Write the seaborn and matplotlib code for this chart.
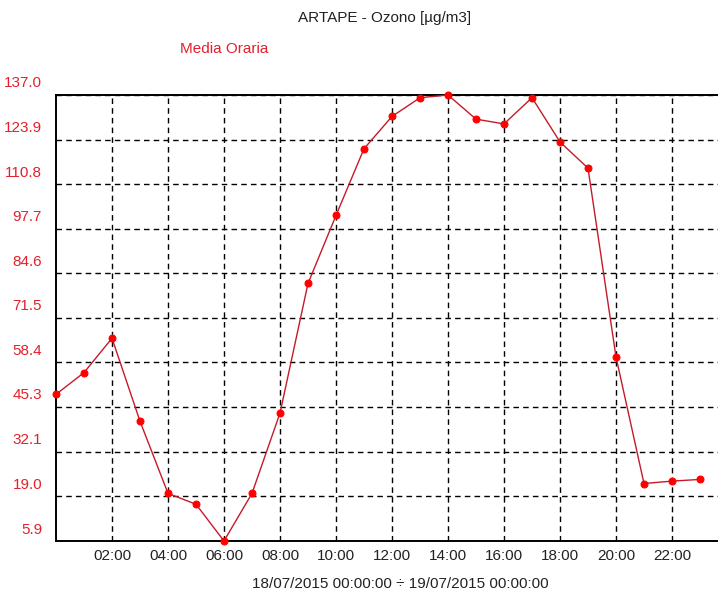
import matplotlib
matplotlib.use("Agg")
import matplotlib.pyplot as plt
import matplotlib.transforms as mtransforms
import seaborn as sns
import pandas as pd
import numpy as np

# hourly ozone averages, 18/07/2015
ore = [0, 1, 2, 3, 4, 5, 6, 7, 8, 9, 10, 11,
       12, 13, 14, 15, 16, 17, 18, 19, 20, 21, 22, 23]
ozono = [49.0, 55.4, 65.5, 41.1, 19.9, 16.7, 5.9, 19.9, 43.5, 81.6, 101.6, 121.2,
         130.7, 136.2, 137.0, 129.9, 128.5, 136.2, 123.2, 115.5, 60.0, 22.8, 23.5, 24.0]

y_ticks = [5.9, 19.0, 32.1, 45.3, 58.4, 71.5, 84.6, 97.7, 110.8, 123.9, 137.0]
x_ticks = [2, 4, 6, 8, 10, 12, 14, 16, 18, 20, 22]
x_labels = ["02:00", "04:00", "06:00", "08:00", "10:00", "12:00",
            "14:00", "16:00", "18:00", "20:00", "22:00"]

df = pd.DataFrame({"ora": ore, "ozono": ozono})

sns.set_style("white")
plt.rcParams["font.family"] = ["Liberation Sans", "DejaVu Sans"]
plt.rcParams["font.size"] = 11

rosso = "#e3202c"

fig = plt.figure(figsize=(7.18, 5.92), dpi=100)
ax = fig.add_axes([56 / 718, 1 - 541 / 592, 1 - 56 / 718, (541 - 95) / 592])

sns.lineplot(data=df, x="ora", y="ozono", ax=ax, color="#c41a2a", linewidth=1.0,
             marker="o", markersize=5, markerfacecolor="#ff0000",
             markeredgecolor="#ff0000", clip_on=False, zorder=5)

ax.set_xlim(0, 662 / 28)
ax.set_ylim(5.9, 137.0)
ax.set_xticks(x_ticks)
ax.set_xticklabels(x_labels, color="#222222")
ax.set_yticks(y_ticks)
ax.set_yticklabels(["%.1f" % v for v in y_ticks], color=rosso)
ax.tick_params(axis="both", length=0, labelsize=11)
ax.tick_params(axis="x", pad=6)
ax.tick_params(axis="y", pad=10)

# y labels sit a bit above their grid line
off = mtransforms.ScaledTranslation(0, 13 / 100, fig.dpi_scale_trans)
for lab in ax.get_yticklabels():
    lab.set_transform(lab.get_transform() + off)

ax.grid(True, color="black", linestyle=(0, (4, 3)), linewidth=1.0)
for s in ["left", "top", "bottom"]:
    ax.spines[s].set_color("black")
    ax.spines[s].set_linewidth(1.4)
ax.spines["right"].set_visible(False)

ax.set_xlabel("")
ax.set_ylabel("")

fig.text(385 / 718, 1 - 18 / 592, "ARTAPE - Ozono [µg/m3]", ha="center", va="center",
         fontsize=11, color="#222222")
fig.text(224 / 718, 1 - 49 / 592, "Media Oraria", ha="center", va="center",
         fontsize=11, color=rosso)
fig.text(400 / 718, 1 - 584 / 592, "18/07/2015 00:00:00 ÷ 19/07/2015 00:00:00",
         ha="center", va="center", fontsize=11, color="#222222")

fig.savefig("out.png", dpi=100)
